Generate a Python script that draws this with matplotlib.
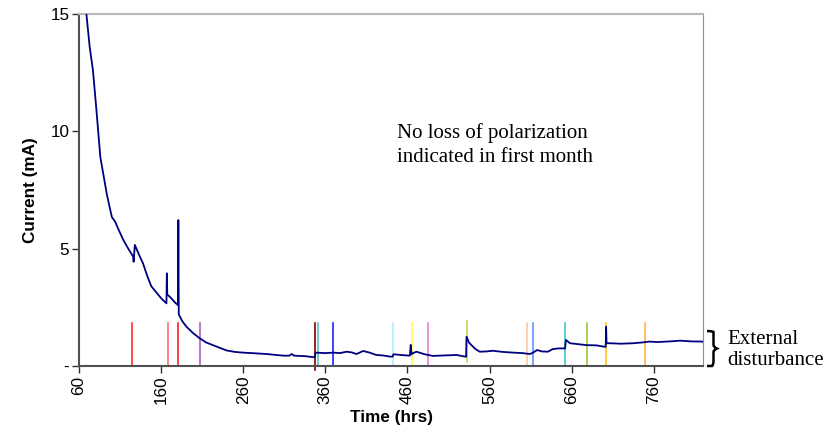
import numpy as np
import matplotlib
matplotlib.use("Agg")
import matplotlib.pyplot as plt
from matplotlib.path import Path
from matplotlib.patches import PathPatch

# current trace (hrs, mA)
time_hrs = [66, 69, 73, 77, 81, 86, 90, 94, 100, 104, 109, 114, 120, 126, 126.5, 128,
            133, 138, 143, 148, 155, 161, 166.5, 167, 167.5, 172, 177, 180.5, 181, 181.5,
            186, 191, 199, 207, 215, 223, 231, 240, 250, 260, 275, 289, 300, 309, 316,
            319, 322, 335, 347, 348, 360, 370, 378, 386, 392, 398, 406, 414, 422, 430,
            439, 442, 443, 452, 463, 464, 465, 467, 471, 481, 491, 505, 520, 530, 531.5,
            532, 535, 538, 543, 548, 556, 564, 576, 589, 600, 609, 612, 618, 624, 631,
            637, 644, 650, 652, 653, 658, 668, 678, 690, 700, 701.5, 702, 702.5, 706,
            720, 735, 745, 755, 765, 775, 785, 792, 805, 819]
current_ma = [16.5, 15.0, 13.6, 12.6, 11.0, 8.9, 8.1, 7.3, 6.35, 6.15, 5.75, 5.37, 5.0, 4.66, 4.44, 5.16,
              4.75, 4.37, 3.85, 3.4, 3.1, 2.85, 2.67, 3.95, 3.05, 2.9, 2.7, 2.6, 6.22, 2.2,
              1.9, 1.67, 1.4, 1.18, 1.0, 0.89, 0.78, 0.66, 0.6, 0.57, 0.54, 0.51, 0.47, 0.44, 0.44,
              0.51, 0.44, 0.42, 0.37, 0.57, 0.55, 0.57, 0.55, 0.61, 0.58, 0.51, 0.64, 0.57, 0.47, 0.45,
              0.40, 0.40, 0.50, 0.47, 0.44, 0.90, 0.50, 0.55, 0.61, 0.50, 0.43, 0.45, 0.47, 0.40, 0.40,
              1.25, 1.0, 0.89, 0.72, 0.61, 0.62, 0.65, 0.60, 0.57, 0.55, 0.51, 0.55, 0.68, 0.62, 0.61,
              0.72, 0.75, 0.75, 0.75, 1.11, 0.97, 0.93, 0.89, 0.88, 0.82, 0.82, 1.67, 0.97, 0.97,
              0.95, 0.97, 1.0, 1.04, 1.02, 1.04, 1.06, 1.08, 1.05, 1.04]

# external disturbance markers
dist_t = [125, 168, 181, 207, 347.5, 350.5, 369.7, 442.3, 465.8, 484.5,
          532, 605.8, 612.4, 652, 679, 701.3, 748.8]
dist_colors = ["#ff3030", "#ff7070", "#ff2020", "#b060c0", "#800000", "#60c0c0", "#2020ff",
               "#a8f0ff", "#ffff50", "#e880c8", "#b8dc50", "#ffc8a0", "#6890ff",
               "#40c8c8", "#99cc33", "#ffc020", "#ffb050"]
dist_lo = [0, 0, 0, 0, -0.15, 0, 0, 0, 0, 0, 0.18, 0, 0, 0, 0, 0, 0]
dist_hi = [1.83] * 10 + [1.9] + [1.83] * 6

xticks = list(range(60, 761, 100))
yticks = [0, 5, 10, 15]
ytick_labels = ["-", "5", "10", "15"]

sans = ["Liberation Sans", "DejaVu Sans"]
serif = ["Liberation Serif", "DejaVu Serif"]

fig = plt.figure(figsize=(8.24, 4.33), dpi=100)
ax = fig.add_axes([79 / 824, 1 - 366 / 433, (703 - 79) / 824, (366 - 14) / 433])

for t, c, lo, hi in zip(dist_t, dist_colors, dist_lo, dist_hi):
    ax.plot([t, t], [lo, hi], color=c, lw=1.2, clip_on=False, zorder=2)

ax.plot(time_hrs, current_ma, color="#000080", lw=1.3, zorder=3)

ax.set_xlim(60, 820)
ax.set_ylim(0, 15)
ax.set_xticks(xticks)
ax.set_xticklabels([str(v) for v in xticks], rotation=90, family=sans, fontsize=12.3)
ax.set_yticks(yticks)
ax.set_yticklabels(ytick_labels, family=sans, fontsize=12.3)
ax.tick_params(direction="out", length=5, width=1, color="#303030", pad=2)

for side in ("left", "bottom"):
    ax.spines[side].set_color("#505050")
    ax.spines[side].set_linewidth(1.5)
ax.spines["top"].set_color("#b8b8b8")
ax.spines["top"].set_linewidth(1.5)
ax.spines["right"].set_color("#909090")
ax.spines["right"].set_linewidth(0.8)

ax.set_xlabel("Time (hrs)", family=sans, fontsize=12.3, fontweight="bold", labelpad=4)
ax.set_ylabel("Current (mA)", family=sans, fontsize=12.3, fontweight="bold", labelpad=9)

fig.text(397 / 824, 1 - 145 / 433, "No loss of polarization\nindicated in first month",
         family=serif, fontsize=15, ha="left", va="center", linespacing=1.4)

# curly bracket beside the disturbance markers (pixel coords -> figure fraction)
def fp(x, y):
    return (x / 824, 1 - y / 433)

verts = [fp(707, 331), fp(712, 331), fp(713.5, 332), fp(713.5, 336),
         fp(713.5, 345), fp(713.5, 347), fp(717, 348.5),
         fp(713.5, 350), fp(713.5, 352), fp(713.5, 361),
         fp(713.5, 365), fp(712, 366), fp(707, 366)]
codes = [Path.MOVETO, Path.CURVE3, Path.CURVE3, Path.LINETO,
         Path.LINETO, Path.CURVE3, Path.CURVE3,
         Path.CURVE3, Path.CURVE3, Path.LINETO,
         Path.CURVE3, Path.CURVE3, Path.LINETO]
fig.patches.append(PathPatch(Path(verts, codes), transform=fig.transFigure,
                             fill=False, lw=1.8, color="black"))
fig.text(727 / 824, 1 - 350 / 433, "External\ndisturbance", family=serif, fontsize=15,
         ha="left", va="center", linespacing=1.15)

fig.savefig("out.png", dpi=100)
